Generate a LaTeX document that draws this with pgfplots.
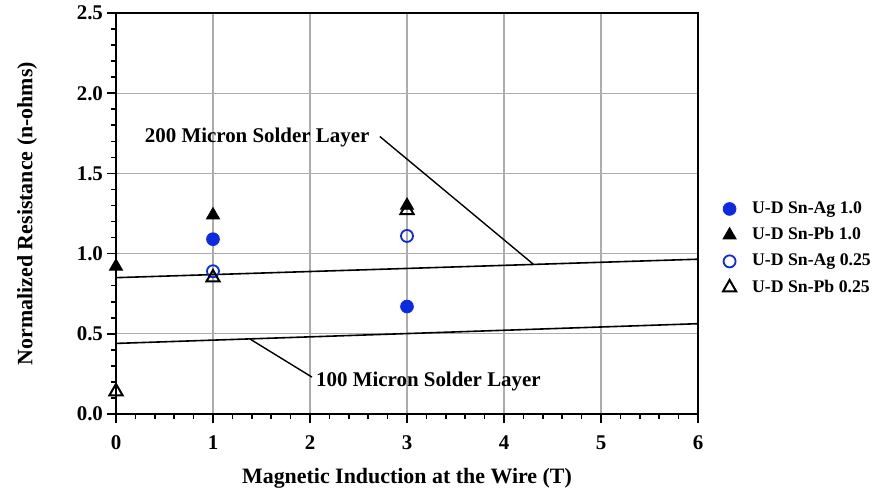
\documentclass[border=0pt]{standalone}
\usepackage{fontspec}
\setmainfont{Liberation Serif}
\usepackage{pgfplots}
\pgfplotsset{compat=1.18}
\definecolor{myblue}{RGB}{12,42,225}
\begin{document}
\begin{tikzpicture}
\begin{axis}[
  scale only axis,
  width=291bp, height=200.5bp,
  xmin=0, xmax=6, ymin=0, ymax=2.5,
  xtick={0,1,...,6},
  ytick={0,0.5,...,2.5},
  minor x tick num=4,
  minor y tick num=4,
  tick align=outside,
  tick pos=left,
  major tick length=4.5bp,
  minor tick length=2.5bp,
  tick style={black, line width=0.8bp},
  xmajorgrids, ymajorgrids,
  major grid style={gray!65, line width=0.6bp},
  axis line style={black, line width=0.9bp},
  /pgf/number format/assume math mode=true,
  yticklabel style={/pgf/number format/fixed, /pgf/number format/fixed zerofill, /pgf/number format/precision=1, font=\fontsize{10.5}{12}\selectfont\bfseries, xshift=1.5bp},
  xticklabel style={font=\fontsize{10.5}{12}\selectfont\bfseries, yshift=-3bp},
  xlabel={Magnetic Induction at the Wire (T)},
  ylabel={Normalized Resistance (n-ohms)},
  label style={font=\fontsize{11}{13}\selectfont\bfseries},
  xlabel style={yshift=-2bp},
  ylabel style={yshift=13bp},
  clip=false,
  legend cell align=left,
  legend style={draw=none, fill=none, at={(1.039,0.413)}, anchor=west,
    font=\fontsize{8.9}{11}\selectfont\bfseries, row sep=1.6bp,
    inner xsep=0pt},
  legend image code/.code={\path[draw=none,fill=none] (0bp,0bp) rectangle (13.5bp,0.1bp); \draw plot coordinates {(4.25bp,0bp)};},
]
% axis tick marks (decoration)
\pgfplotsinvokeforeach{0,1,2,3,4,5,6}{\draw[black,line width=0.8bp] (axis cs:#1,0) -- ([yshift=-4.5bp]axis cs:#1,0);}
\pgfplotsinvokeforeach{0.2,0.4,0.6,0.8,1.2,1.4,1.6,1.8,2.2,2.4,2.6,2.8,3.2,3.4,3.6,3.8,4.2,4.4,4.6,4.8,5.2,5.4,5.6,5.8}{\draw[black,line width=0.7bp] (axis cs:#1,0) -- ([yshift=-2.5bp]axis cs:#1,0);}
\pgfplotsinvokeforeach{0,0.5,1,1.5,2,2.5}{\draw[black,line width=0.8bp] (axis cs:0,#1) -- ([xshift=-4.5bp]axis cs:0,#1);}
\pgfplotsinvokeforeach{0.1,0.2,0.3,0.4,0.6,0.7,0.8,0.9,1.1,1.2,1.3,1.4,1.6,1.7,1.8,1.9,2.1,2.2,2.3,2.4}{\draw[black,line width=0.7bp] (axis cs:0,#1) -- ([xshift=-2.5bp]axis cs:0,#1);}
\addplot[only marks, mark=*, mark size=3.2bp, color=myblue, fill=myblue] coordinates {(1,1.09) (3,0.67)};
\addlegendentry{U-D Sn-Ag 1.0}
\addplot[only marks, mark=triangle*, mark size=3.8bp, color=black, fill=black] coordinates {(0,0.92) (1,1.24) (3,1.30)};
\addlegendentry{U-D Sn-Pb 1.0}
\addplot[only marks, mark=o, mark size=3bp, color=myblue, line width=0.9bp] coordinates {(1,0.89) (3,1.11)};
\addlegendentry{U-D Sn-Ag 0.25}
\addplot[only marks, mark=triangle, mark size=3.8bp, color=black, line width=1bp, mark options={fill=white}] coordinates {(0,0.14) (1,0.85) (3,1.27)};
\addlegendentry{U-D Sn-Pb 0.25}
\addplot[black, line width=0.8bp, no marks, forget plot] coordinates {(0,0.85) (6,0.965)};
\addplot[black, line width=0.8bp, no marks, forget plot] coordinates {(0,0.44) (6,0.563)};
\addplot[black, line width=0.7bp, no marks, forget plot] coordinates {(2.72,1.73) (4.30,0.935)};
\addplot[black, line width=0.7bp, no marks, forget plot] coordinates {(1.38,0.468) (2.02,0.23)};
\node[font=\fontsize{10.5}{12}\selectfont\bfseries] at (axis cs:1.455,1.725) {200 Micron Solder Layer};
\node[font=\fontsize{10.5}{12}\selectfont\bfseries, anchor=west, inner xsep=0pt] at (axis cs:2.06,0.20) {100 Micron Solder Layer};
\coordinate (BL) at (rel axis cs:0,0);
\coordinate (TR) at (rel axis cs:1,1);
\end{axis}
\pgfresetboundingbox
\path ([shift={(-58bp,-38.5bp)}]BL) rectangle ([shift={(87bp,6.5bp)}]TR);
\end{tikzpicture}
\end{document}
